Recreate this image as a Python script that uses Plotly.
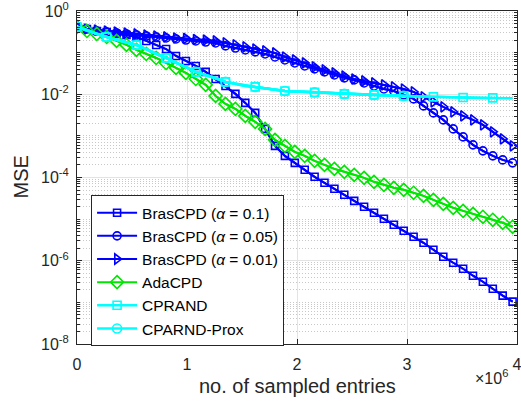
import plotly.graph_objects as go

# sampled entries (x), one point every 0.09e6 entries
samples = [i * 90000 for i in range(45)]

bras_01 = [0.413, 0.370, 0.331, 0.313, 0.281, 0.265, 0.238, 0.191, 0.153, 0.122,
           0.0832, 0.0631, 0.0479, 0.0344, 0.0233, 0.0158, 0.0102, 0.0062, 0.00356, 0.00147,
           5.75e-4, 3.31e-4, 2.25e-4, 1.53e-4, 1.04e-4, 7.45e-5, 5.35e-5, 3.84e-5, 2.75e-5, 1.98e-5,
           1.42e-5, 1.02e-5, 7.31e-6, 5.25e-6, 3.77e-6, 2.70e-6, 1.84e-6, 1.25e-6, 8.95e-7, 6.43e-7,
           4.37e-7, 3.13e-7, 2.13e-7, 1.45e-7, 1.04e-7]

bras_005 = [0.413, 0.370, 0.331, 0.313, 0.296, 0.281, 0.265, 0.251, 0.238, 0.225,
            0.213, 0.201, 0.191, 0.180, 0.171, 0.145, 0.129, 0.116, 0.104, 0.0929,
            0.0787, 0.0667, 0.0565, 0.0479, 0.0406, 0.0344, 0.0291, 0.0247, 0.0221, 0.0187,
            0.0158, 0.0134, 0.0120, 0.00964, 0.00773, 0.00525, 0.00356, 0.00242, 0.00147, 9.46e-4,
            6.08e-4, 4.37e-4, 3.31e-4, 2.65e-4, 2.25e-4]

bras_001 = [0.413, 0.370, 0.350, 0.331, 0.313, 0.296, 0.281, 0.265, 0.251, 0.238,
            0.225, 0.219, 0.207, 0.201, 0.191, 0.171, 0.153, 0.137, 0.122, 0.110,
            0.0982, 0.0787, 0.0667, 0.0565, 0.0453, 0.0384, 0.0325, 0.0275, 0.0233, 0.0209,
            0.0187, 0.0168, 0.0150, 0.0134, 0.0114, 0.00863, 0.00655, 0.00497, 0.00377, 0.00302,
            0.00242, 0.00184, 0.00125, 8.47e-4, 5.75e-4]

ada = [0.413, 0.331, 0.281, 0.238, 0.191, 0.153, 0.116, 0.0929, 0.0745, 0.0565,
       0.0429, 0.0325, 0.0233, 0.0168, 0.00912, 0.00586, 0.00445, 0.00302, 0.00217, 0.00147,
       8.02e-4, 5.75e-4, 4.13e-4, 3.31e-4, 2.51e-4, 2.01e-4, 1.61e-4, 1.37e-4, 1.16e-4, 9.82e-5,
       7.87e-5, 6.67e-5, 5.65e-5, 5.06e-5, 4.29e-5, 3.63e-5, 2.91e-5, 2.33e-5, 1.87e-5, 1.58e-5,
       1.34e-5, 1.14e-5, 9.64e-6, 8.17e-6, 6.55e-6]

cprand = [0.413, 0.350, 0.281, 0.238, 0.201, 0.175, 0.153, 0.122, 0.0929, 0.0745,
          0.0565, 0.0453, 0.0344, 0.0291, 0.0247, 0.0198, 0.0177, 0.0158, 0.0150, 0.0138,
          0.0127, 0.0120, 0.0117, 0.0114, 0.0111, 0.0108, 0.0105, 0.0102, 0.0100, 0.00986,
          0.00964, 0.00948, 0.00933, 0.00912, 0.00897, 0.00883, 0.00863, 0.00853, 0.00845, 0.00836,
          0.00826, 0.00817, 0.00817, 0.00808, 0.00799]

cprand_prox = [0.413, 0.350, 0.281, 0.238, 0.201, 0.175, 0.153, 0.122, 0.0929, 0.0745,
               0.0565, 0.0453, 0.0344, 0.0291, 0.0247, 0.0198, 0.0177, 0.0158, 0.0150, 0.0138,
               0.0127, 0.0120, 0.0117, 0.0114, 0.0111, 0.0108, 0.0105, 0.0102, 0.0100, 0.00986,
               0.00964, 0.00948, 0.00933, 0.00912, 0.00897]

names = ["BrasCPD (<i>α</i> = 0.1)", "BrasCPD (<i>α</i> = 0.05)", "BrasCPD (<i>α</i> = 0.01)",
         "AdaCPD", "CPRAND", "CPARND-Prox"]
x_tick_vals = [0, 1e6, 2e6, 3e6, 4e6]
x_tick_text = ["0", "1", "2", "3", "4"]
y_tick_vals = [1e-8, 1e-6, 1e-4, 1e-2, 1]
y_tick_text = ["10<sup>-8</sup>", "10<sup>-6</sup>", "10<sup>-4</sup>", "10<sup>-2</sup>", "10<sup>0</sup>"]

BLUE = "#0000ff"
GREEN = "#00e600"
CYAN = "#00ffff"
FONT = "Liberation Sans, Arial, Helvetica, sans-serif"
AXC = "#262626"

fig = go.Figure()


def add(xs, ys, name, color, symbol, size, width=2, every=1):
    fig.add_trace(go.Scatter(x=xs, y=ys, mode="lines", line=dict(color=color, width=width),
                             showlegend=False, hoverinfo="skip"))
    fig.add_trace(go.Scatter(x=xs[::every], y=ys[::every], mode="lines+markers", name=name,
                             line=dict(color=color, width=width),
                             marker=dict(symbol=symbol, size=size, color=color,
                                         line=dict(color=color, width=1.6))))


add(samples, bras_01, names[0], BLUE, "square-open", 7)
add(samples, bras_005, names[1], BLUE, "circle-open", 8)
add(samples, bras_001, names[2], BLUE, "triangle-right-open", 9)
add(samples, ada, names[3], GREEN, "diamond-open", 10)
add(samples, cprand, names[4], CYAN, "square-open", 8, width=2.5, every=3)
add(samples[:len(cprand_prox)], cprand_prox, names[5], CYAN, "circle-open", 9, width=2.5, every=3)

minor_vals = [m * 10.0 ** k for k in range(-8, 0) for m in range(1, 10)]

fig.update_layout(
    width=521, height=409,
    margin=dict(l=77, r=4, t=11, b=65, autoexpand=False),
    paper_bgcolor="white", plot_bgcolor="white",
    font=dict(family=FONT, size=16, color=AXC),
    legend=dict(x=0.032, y=0.447, xanchor="left", yanchor="top",
                bgcolor="white", bordercolor=AXC, borderwidth=1,
                font=dict(family=FONT, size=15.5, color="black"),
                itemwidth=40, tracegroupgap=0, entrywidth=200, entrywidthmode="pixels"),
    xaxis=dict(range=[0, 4e6], tickvals=x_tick_vals, ticktext=x_tick_text,
               ticks="inside", ticklen=5, tickcolor=AXC, mirror="ticks",
               showline=True, linecolor=AXC, linewidth=1, automargin=False,
               showgrid=True, gridcolor="#e3e3e3", zeroline=False,
               ticklabeloverflow="allow", ticklabelstandoff=6,
               tickfont=dict(size=16, color=AXC)),
    yaxis=dict(type="log", range=[-8, 0], tickvals=y_tick_vals, ticktext=y_tick_text,
               ticks="inside", ticklen=5, tickcolor=AXC, mirror="ticks",
               showline=True, linecolor=AXC, linewidth=1, automargin=False,
               showgrid=True, gridcolor="#e3e3e3", zeroline=False,
               ticklabeloverflow="allow", ticklabelstandoff=4,
               tickfont=dict(size=16, color=AXC),
               minor=dict(tickvals=minor_vals, ticks="inside", ticklen=3, tickcolor=AXC,
                          showgrid=True, gridcolor="#c8c8c8", griddash="1px,2px", gridwidth=1)),
    annotations=[
        dict(text="×10<sup>6</sup>", xref="paper", yref="paper", x=0.985, y=-0.10,
             xanchor="right", yanchor="middle", showarrow=False,
             font=dict(size=16, color=AXC)),
        dict(text="no. of sampled entries", xref="paper", yref="paper", x=0.5, y=-0.125,
             xanchor="center", yanchor="middle", showarrow=False,
             font=dict(size=20, color=AXC)),
        dict(text="MSE", xref="paper", yref="paper", x=-0.1295, y=0.5, textangle=-90,
             xanchor="center", yanchor="middle", showarrow=False,
             font=dict(size=20, color=AXC)),
    ],
)

fig.write_html("out.html", post_script="document.body.style.margin='0';",
               config={"displayModeBar": False})
